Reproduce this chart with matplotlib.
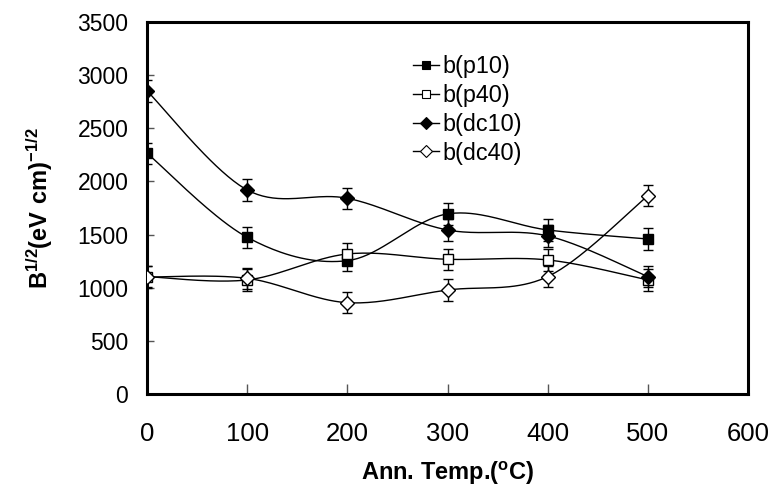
import numpy as np
import matplotlib
matplotlib.use("Agg")
import matplotlib.pyplot as plt
from matplotlib.lines import Line2D

plt.rcParams['font.family'] = ['Liberation Sans', 'DejaVu Sans']
plt.rcParams['mathtext.fontset'] = 'custom'
plt.rcParams['mathtext.rm'] = 'Liberation Sans'
plt.rcParams['mathtext.bf'] = 'Liberation Sans:bold'

temps = [0, 100, 200, 300, 400, 500]
p10 = [2265, 1474, 1254, 1694, 1543, 1458]
p40 = [1104, 1073, 1317, 1267, 1261, 1073]
dc10 = [2851, 1919, 1841, 1543, 1487, 1104]
dc40 = [1100, 1088, 859, 978, 1104, 1866]
err = [100, 100, 100, 100, 100, 100]
labels = ['b(p10)', 'b(p40)', 'b(dc10)', 'b(dc40)']


def smooth(x, y, n=40):
    x = np.asarray(x, float); y = np.asarray(y, float)
    P = np.column_stack([x, y])
    P = np.vstack([P[0], P, P[-1]])
    out = []
    for i in range(1, len(P) - 2):
        p0, p1, p2, p3 = P[i - 1], P[i], P[i + 1], P[i + 2]
        t = np.linspace(0, 1, n)[:, None]
        seg = 0.5 * ((2 * p1) + (-p0 + p2) * t + (2 * p0 - 5 * p1 + 4 * p2 - p3) * t ** 2
                     + (-p0 + 3 * p1 - 3 * p2 + p3) * t ** 3)
        out.append(seg)
    S = np.vstack(out)
    return S[:, 0], S[:, 1]


fig = plt.figure(figsize=(7.71, 4.87), dpi=100)
ax = fig.add_axes([0.1907, 0.191, 0.7795, 0.764])

series = [(p10, 's', 'black'), (p40, 's', 'white'), (dc10, 'D', 'black'), (dc40, 'D', 'white')]
handles = []
for (vals, m, fc), lab in zip(series, labels):
    sx, sy = smooth(temps, vals)
    ax.plot(sx, sy, color='black', lw=1.0, zorder=2)
    ms = 6.8 if m == 's' else 7.2
    ax.errorbar(temps, vals, yerr=err, fmt=m, ms=ms, mfc=fc, mec='black', mew=1.0,
                ecolor='black', elinewidth=1.0, capsize=3.5, capthick=1.0, zorder=3)
    handles.append(Line2D([0], [0], color='black', lw=1.0, marker=m,
                          ms=(5.5 if m == 's' else 6), mfc=fc, mec='black', mew=0.8))

ax.set_xlim(0, 600)
ax.set_ylim(0, 3500)
ax.set_xticks(range(0, 601, 100))
ax.set_yticks(range(0, 3501, 500))
ax.tick_params(axis='both', direction='in', width=1.0, color='#555555')
ax.tick_params(axis='x', length=7, pad=20, labelsize=18.5)
ax.tick_params(axis='y', length=5, pad=13.5, labelsize=16.5)
for s in ax.spines.values():
    s.set_linewidth(2.2)

ax.set_xlabel('Ann. Temp.($\\mathregular{^o}$C)', fontsize=17, fontweight='bold', labelpad=10)
ax.set_ylabel('$\\mathbf{B^{1/2}(eV\\ cm)^{-1/2}}$', fontsize=17, labelpad=16)

ax.legend(handles, labels, loc='upper left', bbox_to_anchor=(0.4426, 0.911), frameon=False,
          fontsize=16.8, handlelength=1.1, handletextpad=0.17, labelspacing=0.25,
          borderpad=0, borderaxespad=0)

fig.savefig('out.png', dpi=100)
